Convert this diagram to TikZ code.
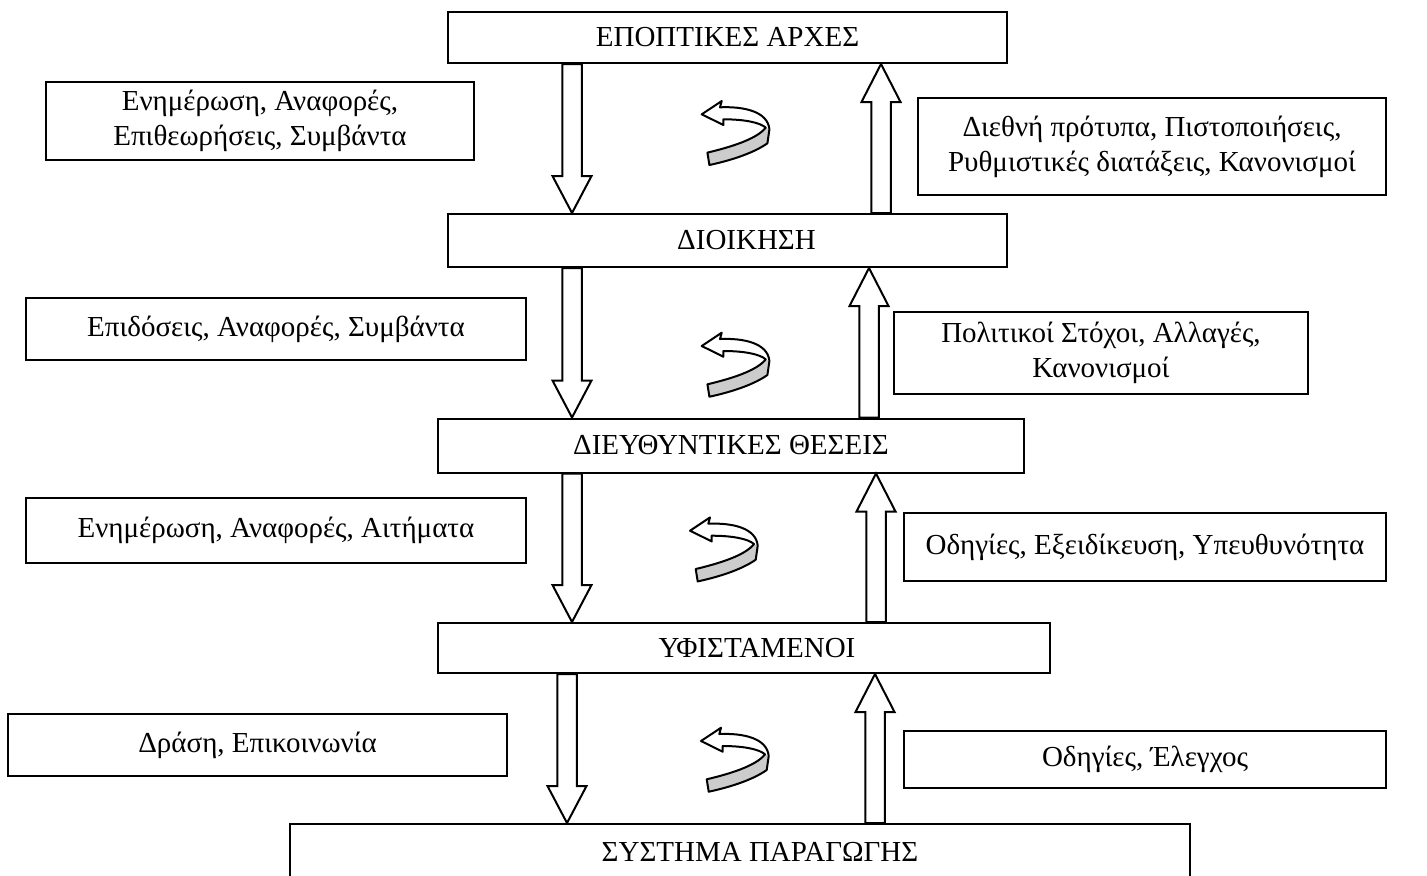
\documentclass[tikz,border=0pt]{standalone}
\usepackage{fontspec}
\setmainfont{Liberation Serif}
\usetikzlibrary{calc}

% block arrow running down from the bottom of #2 to the top of #3, centred on x = #1
\newcommand\blkdown[3]{%
  \draw[blk] (#1-9.75,0 |- #2.south) -- ($(#1-9.75,0 |- #3.north)+(0,-37)$)
    -- ($(#1-19.5,0 |- #3.north)+(0,-37)$) -- (#1,0 |- #3.north)
    -- ($(#1+19.5,0 |- #3.north)+(0,-37)$) -- ($(#1+9.75,0 |- #3.north)+(0,-37)$)
    -- (#1+9.75,0 |- #2.south) -- cycle;}
% block arrow running up from the top of #2 to the bottom of #3, centred on x = #1
\newcommand\blkup[3]{%
  \draw[blk] (#1-9.75,0 |- #2.north) -- ($(#1-9.75,0 |- #3.south)+(0,38)$)
    -- ($(#1-19.5,0 |- #3.south)+(0,38)$) -- (#1,0 |- #3.south)
    -- ($(#1+19.5,0 |- #3.south)+(0,38)$) -- ($(#1+9.75,0 |- #3.south)+(0,38)$)
    -- (#1+9.75,0 |- #2.north) -- cycle;}

\begin{document}
\begin{tikzpicture}[x=0.5pt,y=-0.5pt,
  box/.style 2 args={draw, line width=1pt, fill=white, inner sep=0pt,
    minimum width=#1*0.5pt, minimum height=#2*0.5pt, align=center,
    font=\fontsize{14.5}{17.5}\selectfont},
  lbl/.style={font=\fontsize{14.5}{17.5}\selectfont, inner sep=0pt},
  blk/.style={draw, line width=1pt, fill=white, line join=miter},
  curl/.pic={
    \fill[white] (0,0) -- (20,-13.3) -- (18.3,-7) .. controls (42,-8) and (66,-3) .. (67.7,15)
      -- (65.7,29) .. controls (50,40) and (25,47) .. (7.7,50.7) -- (5.7,38.3)
      .. controls (28,33) and (55,25) .. (64,13.3)
      .. controls (58,8) and (42,5) .. (21.7,5) -- (21.7,10.7) -- cycle;
    \fill[black!20] (64,13.3) -- (67.7,15) -- (65.7,29)
      .. controls (50,40) and (25,47) .. (7.7,50.7) -- (5.7,38.3)
      .. controls (28,33) and (55,25) .. (64,13.3);
    \draw[line width=1pt, line join=round] (0,0) -- (20,-13.3) -- (18.3,-7)
      .. controls (42,-8) and (66,-3) .. (67.7,15)
      -- (65.7,29) .. controls (50,40) and (25,47) .. (7.7,50.7) -- (5.7,38.3)
      .. controls (28,33) and (55,25) .. (64,13.3)
      .. controls (58,8) and (42,5) .. (21.7,5) -- (21.7,10.7) -- cycle;
  }]
\useasboundingbox (0,0) rectangle (1427,875);
\clip (0,0) rectangle (1427,875);

% levels of the hierarchy
\node[box={559}{51}] (auth) at (727.5,37.5) {ΕΠΟΠΤΙΚΕΣ ΑΡΧΕΣ};
\node[box={559}{53}, label={[lbl, name=adm-t, xshift=9.5pt]center:ΔΙΟΙΚΗΣΗ}] (adm) at (727.5,240.5) {};
\node[box={586}{54}] (dir) at (731,445.5) {ΔΙΕΥΘΥΝΤΙΚΕΣ ΘΕΣΕΙΣ};
\node[box={612}{50}, label={[lbl, name=sub-t, xshift=6.5pt]center:ΥΦΙΣΤΑΜΕΝΟΙ}] (sub) at (744,648) {};
\node[box={900}{56}, label={[lbl, name=prod-t, xshift=10pt]center:ΣΥΣΤΗΜΑ ΠΑΡΑΓΩΓΗΣ}] (prod) at (740,852) {};

% upward flows (left)
\node[box={428}{78}] (l1) at (260,121) {Ενημέρωση, Αναφορές,\\Επιθεωρήσεις, Συμβάντα};
\node[box={500}{62}] (l2) at (276,329) {Επιδόσεις, Αναφορές, Συμβάντα};
\node[box={500}{65}] (l3) at (276,530) {Ενημέρωση, Αναφορές, Αιτήματα};
\node[box={499}{62}] (l4) at (257.5,745) {Δράση, Επικοινωνία};

% downward flows (right)
\node[box={468}{97}] (r1) at (1152,146.5) {Διεθνή πρότυπα, Πιστοποιήσεις,\\Ρυθμιστικές διατάξεις, Κανονισμοί};
\node[box={414}{82}] (r2) at (1101,353) {Πολιτικοί Στόχοι, Αλλαγές,\\Κανονισμοί};
\node[box={482}{68}] (r3) at (1145,547) {Οδηγίες, Εξειδίκευση, Υπευθυνότητα};
\node[box={482}{57}] (r4) at (1145,759.5) {Οδηγίες, Έλεγχος};

% block arrows between levels
\blkdown{572}{auth}{adm}
\blkup{881}{adm}{auth}
\blkdown{572}{adm}{dir}
\blkup{869}{dir}{adm}
\blkdown{572}{dir}{sub}
\blkup{876}{sub}{dir}
\blkdown{567}{sub}{prod}
\blkup{875}{prod}{sub}

% feedback loops
\pic (c1) at (701.7,114.3) {curl};
\pic (c2) at (701.7,346) {curl};
\pic (c3) at (690,530.7) {curl};
\pic (c4) at (701,741) {curl};
\end{tikzpicture}
\end{document}
